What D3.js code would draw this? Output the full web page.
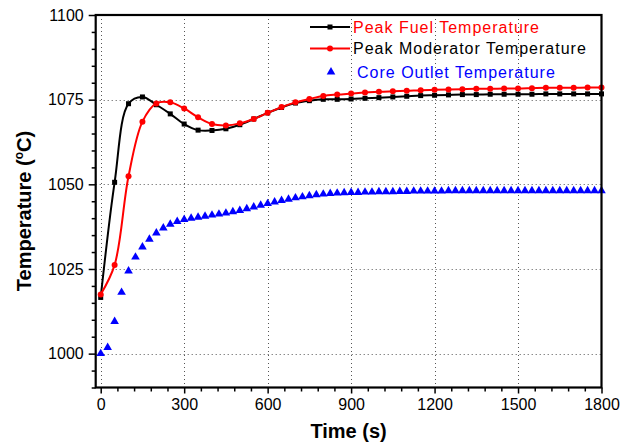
<!DOCTYPE html>
<html>
<head>
<meta charset="utf-8">
<script src="https://cdn.jsdelivr.net/npm/d3@7"></script>
<style>
  body { margin: 0; background: #fff; }
  svg { display: block; font-family: Arial, "Liberation Sans", sans-serif; }
</style>
</head>
<body>
<div id="chart"></div>
<script>
// time axis for the two peak curves (every 50 s)
const peakTimes = d3.range(0, 1801, 50);
const fuelTemp = [1016.6, 1050.6, 1073.8, 1075.8, 1073.5, 1070.8, 1067.8, 1066.0, 1065.9, 1066.4,
  1067.6, 1069.3, 1071.1, 1072.7, 1074.0, 1074.7, 1075.1, 1075.1, 1075.2, 1075.4,
  1075.6, 1075.8, 1076.0, 1076.2, 1076.3, 1076.4, 1076.5, 1076.5, 1076.6, 1076.6,
  1076.6, 1076.6, 1076.7, 1076.7, 1076.7, 1076.7, 1076.7];
const moderatorTemp = [1017.5, 1026.2, 1052.4, 1068.5, 1073.9, 1074.2, 1072.4, 1069.8, 1067.8, 1067.4,
  1068.0, 1069.3, 1071.1, 1072.8, 1074.2, 1075.2, 1076.1, 1076.5, 1076.8, 1077.1,
  1077.3, 1077.5, 1077.6, 1077.8, 1077.9, 1078.0, 1078.1, 1078.2, 1078.2, 1078.3,
  1078.3, 1078.4, 1078.5, 1078.5, 1078.5, 1078.6, 1078.6];

// core outlet (every 25 s)
const outletTimes = d3.range(0, 1801, 25);
const outletTemp = [1000.0, 1001.8, 1009.5, 1018.1, 1024.4, 1028.5, 1031.5, 1033.8, 1035.6, 1037.1,
  1038.2, 1039.0, 1039.6, 1040.0, 1040.3, 1040.6, 1040.9, 1041.2, 1041.5, 1041.9,
  1042.3, 1042.8, 1043.3, 1043.8, 1044.3, 1044.8, 1045.2, 1045.6, 1046.0, 1046.3,
  1046.6, 1046.9, 1047.1, 1047.3, 1047.4, 1047.5, 1047.6, 1047.6, 1047.7, 1047.7,
  1047.8, 1047.8, 1047.8, 1047.9, 1047.9, 1048.0, 1048.0, 1048.0, 1048.0, 1048.0,
  1048.1, 1048.1, 1048.1, 1048.1, 1048.1, 1048.1, 1048.1, 1048.1, 1048.1, 1048.1,
  1048.1, 1048.1, 1048.1, 1048.1, 1048.1, 1048.1, 1048.1, 1048.1, 1048.1, 1048.1,
  1048.1, 1048.1, 1048.1];

const xTicks = [0, 300, 600, 900, 1200, 1500, 1800];
const yTicks = [1000, 1025, 1050, 1075, 1100];

const legendItems = [
  { label: "Peak Fuel Temperature", line: "#000", text: "#ff0000", marker: "square" },
  { label: "Peak Moderator Temperature", line: "#ff0000", text: "#000", marker: "circle" },
  { label: "Core Outlet Temperature", line: null, text: "#0000ff", marker: "triangle" }
];

const width = 630, height = 447;
const plotL = 95.7, plotR = 601.5, plotT = 15, plotB = 387.5;

const svg = d3.select("#chart").append("svg")
    .attr("width", width)
    .attr("height", height);

const x = d3.scaleLinear().domain([-18, 1800]).range([plotL, plotR]);
const y = d3.scaleLinear().domain([990, 1100]).range([plotB, plotT]);

// dotted grid at the major ticks
const vGrid = xTicks.filter(d => d < 1800);
const hGrid = yTicks.filter(d => d < 1100);

svg.append("g")
    .selectAll("line")
    .data(vGrid)
    .join("line")
    .attr("x1", d => Math.round(x(d)) + 0.5)
    .attr("x2", d => Math.round(x(d)) + 0.5)
    .attr("y1", plotT)
    .attr("y2", plotB)
    .style("stroke", "#555")
    .style("stroke-width", 1)
    .style("stroke-dasharray", "1,3");

svg.append("g")
    .selectAll("line")
    .data(hGrid)
    .join("line")
    .attr("y1", d => Math.round(y(d)) + 0.5)
    .attr("y2", d => Math.round(y(d)) + 0.5)
    .attr("x1", plotL)
    .attr("x2", plotR)
    .style("stroke", "#555")
    .style("stroke-width", 1)
    .style("stroke-dasharray", "1,3");

// axes: minor ticks first, then majors with labels
const minorX = d3.range(0, 1801, 60).filter(d => d % 300 !== 0);
const minorY = d3.range(990, 1101, 5).filter(d => d % 25 !== 0);

svg.append("g")
    .attr("transform", `translate(0,${plotB})`)
    .call(d3.axisBottom(x).tickValues(minorX).tickSize(4).tickFormat(""))
    .call(g => g.select(".domain").remove())
    .selectAll("line").attr("stroke-width", 1.5);

svg.append("g")
    .attr("transform", `translate(0,${plotB})`)
    .call(d3.axisBottom(x).tickValues(xTicks).tickSize(6).tickPadding(5).tickFormat(d3.format("d")))
    .call(g => g.select(".domain").remove())
    .call(g => g.selectAll("line").attr("stroke-width", 1.5))
    .call(g => g.selectAll("text").attr("font-size", 16).attr("fill", "#000")
        .attr("font-family", "Arial, 'Liberation Sans', sans-serif"));

svg.append("g")
    .attr("transform", `translate(${plotL},0)`)
    .call(d3.axisLeft(y).tickValues(minorY).tickSize(4).tickFormat(""))
    .call(g => g.select(".domain").remove())
    .selectAll("line").attr("stroke-width", 1.5);

svg.append("g")
    .attr("transform", `translate(${plotL},0)`)
    .call(d3.axisLeft(y).tickValues(yTicks).tickSize(7).tickPadding(5).tickFormat(d3.format("d")))
    .call(g => g.select(".domain").remove())
    .call(g => g.selectAll("line").attr("stroke-width", 1.5))
    .call(g => g.selectAll("text").attr("font-size", 16).attr("fill", "#000")
        .attr("font-family", "Arial, 'Liberation Sans', sans-serif"));

// series
const fuel = peakTimes.map((t, i) => ({ t, v: fuelTemp[i] }));
const moder = peakTimes.map((t, i) => ({ t, v: moderatorTemp[i] }));
const outlet = outletTimes.map((t, i) => ({ t, v: outletTemp[i] }));

const line = d3.line()
    .x(d => x(d.t))
    .y(d => y(d.v))
    .curve(d3.curveCatmullRom.alpha(0.5));

svg.append("path")
    .datum(fuel)
    .attr("fill", "none")
    .attr("stroke", "#000")
    .attr("stroke-width", 2)
    .attr("d", line);

svg.append("g")
    .selectAll("rect")
    .data(fuel)
    .join("rect")
    .attr("x", d => x(d.t) - 2.5)
    .attr("y", d => y(d.v) - 2.5)
    .attr("width", 5)
    .attr("height", 5)
    .attr("fill", "#000");

svg.append("path")
    .datum(moder)
    .attr("fill", "none")
    .attr("stroke", "#ff0000")
    .attr("stroke-width", 2)
    .attr("d", line);

svg.append("g")
    .selectAll("circle")
    .data(moder)
    .join("circle")
    .attr("cx", d => x(d.t))
    .attr("cy", d => y(d.v))
    .attr("r", 3)
    .attr("fill", "#ff0000");

const tri = d3.symbol().type(d3.symbolTriangle).size(32);

svg.append("g")
    .selectAll("path")
    .data(outlet)
    .join("path")
    .attr("transform", d => `translate(${x(d.t)},${y(d.v)})`)
    .attr("d", tri)
    .attr("fill", "#0000ff");

// frame
svg.append("rect")
    .attr("x", plotL)
    .attr("y", plotT)
    .attr("width", plotR - plotL)
    .attr("height", plotB - plotT)
    .attr("fill", "none")
    .attr("stroke", "#000")
    .attr("stroke-width", 2.2);

// legend
const legend = svg.append("g");
const rowY = [27, 48.5, 72];
legendItems.forEach((item, i) => {
    const g = legend.append("g").attr("transform", `translate(0,${rowY[i]})`);
    if (item.line) {
        g.append("line")
            .attr("x1", 310).attr("x2", 350)
            .attr("stroke", item.line)
            .attr("stroke-width", 2);
    }
    if (item.marker === "square") {
        g.append("rect").attr("x", 327.5).attr("y", -2.5).attr("width", 5).attr("height", 5).attr("fill", "#000");
    } else if (item.marker === "circle") {
        g.append("circle").attr("cx", 330).attr("r", 3).attr("fill", "#ff0000");
    } else {
        g.append("path").attr("transform", "translate(331,0)").attr("d", tri).attr("fill", "#0000ff");
    }
    g.append("text")
        .attr("x", item.marker === "triangle" ? 357 : 353)
        .attr("dy", "0.36em")
        .attr("font-size", 16)
        .attr("letter-spacing", "1px")
        .attr("fill", item.text)
        .text(item.label);
});

// axis titles
svg.append("text")
    .attr("x", (plotL + plotR) / 2)
    .attr("y", 438)
    .attr("text-anchor", "middle")
    .attr("font-size", 20)
    .attr("font-weight", "bold")
    .text("Time (s)");

const yTitle = svg.append("text")
    .attr("transform", "translate(31,211) rotate(-90)")
    .attr("text-anchor", "middle")
    .attr("font-size", 20)
    .attr("font-weight", "bold");
yTitle.append("tspan").text("Temperature (");
yTitle.append("tspan").attr("font-size", 12).attr("dy", -8).text("o");
yTitle.append("tspan").attr("dy", 8).text("C)");
</script>
</body>
</html>
